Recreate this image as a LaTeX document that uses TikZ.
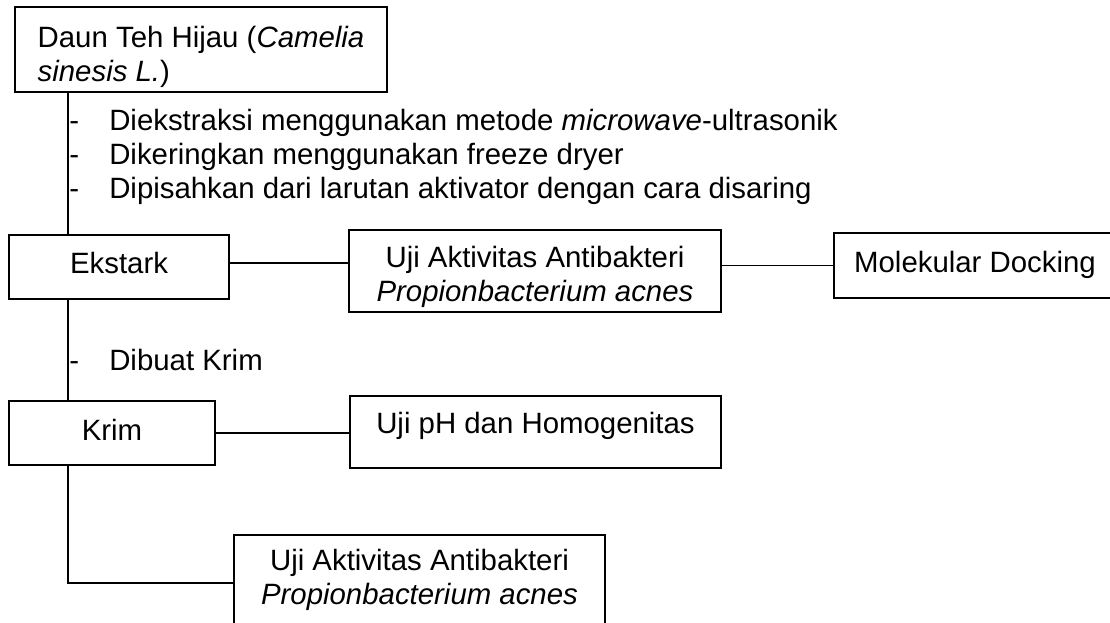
\documentclass[tikz,border=0pt]{standalone}
\usepackage{fontspec}
\setmainfont{Liberation Sans}
\begin{document}
\begin{tikzpicture}[x=1cm,y=1cm,
  flowbox/.style={draw,line width=1.2pt,inner sep=0pt,align=center,
    font=\fontsize{20.9pt}{24.2pt}\selectfont},
  note/.style={inner sep=0pt,align=left,anchor=west,
    font=\fontsize{20.9pt}{24.2pt}\selectfont},
  link/.style={line width=1.2pt}]
  \useasboundingbox (0,0) rectangle (27.75,15.55);
  \clip (0,0) rectangle (27.75,15.55);
  % the leaf and the extract
  \node[flowbox,align=left,minimum width=9.3cm,minimum height=2.125cm] (daun) at (5.025,14.3125)
    {\rule{0pt}{0.91cm}Daun Teh Hijau (\textit{Camelia}\\ \textit{sinesis L.})};
  \node[flowbox,minimum width=5.5cm,minimum height=1.6cm] (ekstark) at (2.975,8.875)
    {Ekstark\rule[-0.21cm]{0pt}{0pt}};
  \node[flowbox,minimum width=9.3cm,minimum height=2.05cm] (ujiekstrak) at (13.375,8.775)
    {\rule{0pt}{0.81cm}Uji Aktivitas Antibakteri\\ \textit{Propionbacterium acnes}};
  \node[flowbox,minimum width=7.05cm,minimum height=1.625cm] (docking) at (24.375,8.9125)
    {Molekular Docking\rule[-0.18cm]{0pt}{0pt}};
  % the cream and its tests
  \node[flowbox,minimum width=5.15cm,minimum height=1.6cm] (krim) at (2.8,4.725)
    {Krim\rule[-0.16cm]{0pt}{0pt}};
  \node[flowbox,minimum width=9.275cm,minimum height=1.8cm] (ujiph) at (13.3875,4.75)
    {Uji pH dan Homogenitas\rule[-0.46cm]{0pt}{0pt}};
  \node[flowbox,minimum width=9.275cm,minimum height=2.25cm] (ujikrim) at (10.4875,1.05)
    {Uji Aktivitas Antibakteri\\ \textit{Propionbacterium acnes}};
  % steps written along the trunk
  \node[note] (ekstraksi) at (1.725,11.62)
    {\makebox[1cm][l]{-}Diekstraksi menggunakan metode \textit{microwave}-ultrasonik\\
     \makebox[1cm][l]{-}Dikeringkan menggunakan freeze dryer\\
     \makebox[1cm][l]{-}Dipisahkan dari larutan aktivator dengan cara disaring};
  \node[note] (dibuat) at (1.725,6.55) {\makebox[1cm][l]{-}Dibuat Krim};
  % trunk line and side branches
  \coordinate (trunk) at (1.7,0);
  \draw[link] (daun.south -| trunk) -- (ekstark.north -| trunk);
  \draw[link] (ekstark.south -| trunk) -- (krim.north -| trunk);
  \draw[link] (krim.south -| trunk) |- ([yshift=-0.075cm]ujikrim.west);
  \draw[link] ([yshift=0.1cm]ekstark.east) -- ([yshift=0.1cm]ekstark.east -| ujiekstrak.west);
  \draw[link] (docking.west -| ujiekstrak.east) -- (docking.west);
  \draw[link] (krim.east) -- (krim.east -| ujiph.west);
\end{tikzpicture}
\end{document}
